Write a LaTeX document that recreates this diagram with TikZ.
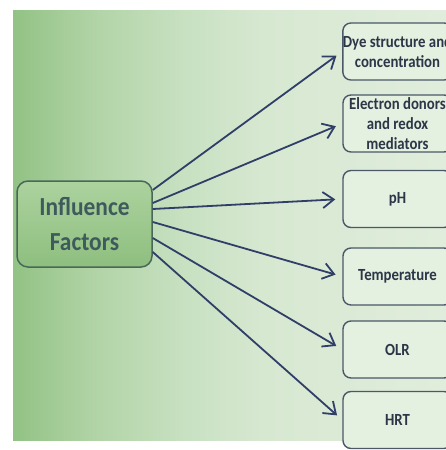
\documentclass[tikz,border=0pt]{standalone}
\usepackage{fontspec}
\setmainfont{Carlito}
\newfontfamily\boxfont[FakeStretch=0.87]{Carlito}
\newfontfamily\inffont[FakeStretch=0.9]{Carlito}
\usetikzlibrary{arrows.meta}
\definecolor{g0}{RGB}{146,194,132}
\definecolor{g1}{RGB}{176,211,165}
\definecolor{g2}{RGB}{200,225,194}
\definecolor{g3}{RGB}{215,232,209}
\definecolor{g4}{RGB}{224,237,220}
\definecolor{boxfill}{RGB}{228,240,224}
\definecolor{boxdraw}{RGB}{74,88,104}
\definecolor{infdraw}{RGB}{72,104,88}
\definecolor{inftext}{RGB}{62,90,92}
\definecolor{boxtext}{RGB}{44,54,72}
\definecolor{arrcol}{RGB}{48,62,104}
\definecolor{infA}{RGB}{172,210,158}
\definecolor{infB}{RGB}{142,191,127}
\pgfdeclarehorizontalshading{bgshade}{100bp}{color(0bp)=(g0); color(25bp)=(g0); color(34bp)=(g1); color(45bp)=(g2); color(54bp)=(g3); color(75bp)=(g4); color(100bp)=(g4)}
\tikzset{
  factor/.style={draw=boxdraw, line width=1.4pt, rounded corners=8pt, fill=boxfill,
    minimum width=109pt, minimum height=57pt, inner sep=0pt, align=center,
    text=boxtext, font=\boxfont\bfseries\fontsize{17}{20}\selectfont},
  infbox/.style={draw=infdraw, line width=1.5pt, rounded corners=11pt,
    top color=infA, bottom color=infB,
    minimum width=135pt, minimum height=86pt, inner sep=0pt, align=center,
    text=inftext, font=\inffont\bfseries\fontsize{26}{35}\selectfont},
  arr/.style={draw=arrcol, line width=1.8pt, -{Straight Barb[length=11pt,width=16pt,line width=1.8pt]}, shorten >=7pt}
}
\begin{document}
\begin{tikzpicture}[x=1pt,y=-1pt]
\useasboundingbox (0,0) rectangle (446,450);
\begin{scope}
\clip (0,0) rectangle (446,450);
\fill[white] (0,0) rectangle (446,450);
\shade[shading=bgshade] (13,10) rectangle (446,440);
\node[infbox] (inf) at (84.5,224) {Influence\\Factors};
\node[factor] (b1) at (397.5,51.5) {Dye structure and\\concentration};
\node[factor] (b2) at (397.5,123.5) {Electron donors\\and redox\\mediators};
\node[factor] (b3) at (397.5,199) {pH};
\node[factor] (b4) at (397.5,276.5) {Temperature};
\node[factor] (b5) at (397.5,349.5) {OLR};
\node[factor] (b6) at (397.5,420) {HRT};
\draw[arr] ([yshift=34pt]inf.east) -- (b1.west);
\draw[arr] ([yshift=21pt]inf.east) -- (b2.west);
\draw[arr] ([yshift=15pt]inf.east) -- (b3.west);
\draw[arr] ([yshift=2pt]inf.east) -- (b4.west);
\draw[arr] ([yshift=-14pt]inf.east) -- (b5.west);
\draw[arr] ([yshift=-28pt]inf.east) -- (b6.west);
\end{scope}
\end{tikzpicture}
\end{document}
